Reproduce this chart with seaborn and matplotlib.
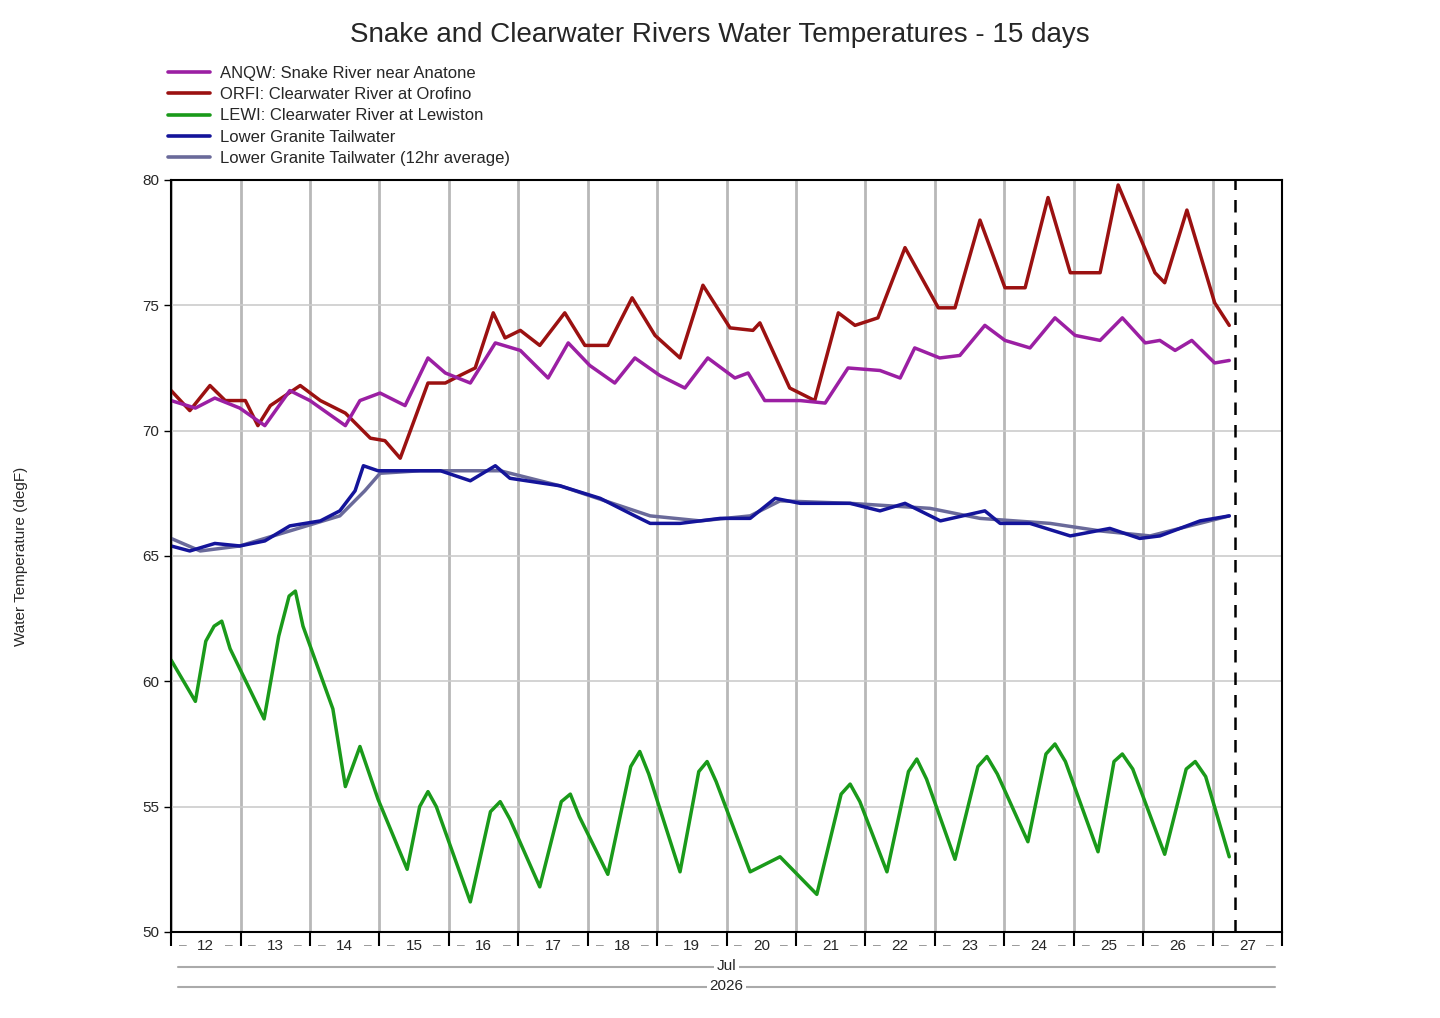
import matplotlib
matplotlib.use("Agg")
import matplotlib.pyplot as plt
import seaborn as sns
import pandas as pd
from matplotlib.lines import Line2D

sns.set_theme(style="white")
plt.rcParams['font.family'] = ['Liberation Sans', 'DejaVu Sans']

# days since Jul 12 00:00
lewi_t = [0, 0.35, 0.50, 0.62, 0.73, 0.85, 1.34, 1.55, 1.70, 1.79, 1.90, 2.33, 2.51, 2.72, 2.98, 3.40, 3.58, 3.70, 3.82, 4.31, 4.60, 4.74, 4.88, 5.31, 5.62, 5.75, 5.88, 6.29, 6.62, 6.75, 6.88, 7.33, 7.60, 7.72, 7.85, 8.34, 8.77, 9.30, 9.65, 9.78, 9.92, 10.31, 10.62, 10.74, 10.88, 11.29, 11.62, 11.75, 11.90, 12.34, 12.60, 12.73, 12.88, 13.35, 13.58, 13.70, 13.85, 14.31, 14.62, 14.75, 14.90, 15.24]
lewi_v = [60.85, 59.2, 61.6, 62.2, 62.4, 61.3, 58.5, 61.8, 63.4, 63.6, 62.2, 58.9, 55.8, 57.4, 55.3, 52.5, 55.0, 55.6, 55.0, 51.2, 54.8, 55.2, 54.5, 51.8, 55.2, 55.5, 54.6, 52.3, 56.6, 57.2, 56.3, 52.4, 56.4, 56.8, 56.0, 52.4, 53.0, 51.5, 55.5, 55.9, 55.2, 52.4, 56.4, 56.9, 56.1, 52.9, 56.6, 57.0, 56.3, 53.6, 57.1, 57.5, 56.8, 53.2, 56.8, 57.1, 56.5, 53.1, 56.5, 56.8, 56.2, 53.0]

orfi_t = [0, 0.27, 0.56, 0.78, 1.07, 1.25, 1.43, 1.86, 2.15, 2.51, 2.87, 3.08, 3.30, 3.70, 3.95, 4.16, 4.38, 4.64, 4.81, 5.03, 5.31, 5.67, 5.96, 6.29, 6.64, 6.97, 7.33, 7.66, 8.05, 8.38, 8.48, 8.91, 9.27, 9.61, 9.85, 10.18, 10.57, 11.05, 11.29, 11.65, 12.01, 12.30, 12.63, 12.95, 13.38, 13.64, 14.17, 14.31, 14.63, 15.03, 15.24]
orfi_v = [71.6, 70.8, 71.8, 71.2, 71.2, 70.2, 71.0, 71.8, 71.2, 70.7, 69.7, 69.6, 68.9, 71.9, 71.9, 72.2, 72.5, 74.7, 73.7, 74.0, 73.4, 74.7, 73.4, 73.4, 75.3, 73.8, 72.9, 75.8, 74.1, 74.0, 74.3, 71.7, 71.2, 74.7, 74.2, 74.5, 77.3, 74.9, 74.9, 78.4, 75.7, 75.7, 79.3, 76.3, 76.3, 79.8, 76.3, 75.9, 78.8, 75.1, 74.2]

anqw_t = [0, 0.35, 0.63, 0.99, 1.35, 1.71, 2.00, 2.51, 2.72, 3.01, 3.37, 3.70, 3.95, 4.31, 4.67, 5.03, 5.43, 5.72, 6.03, 6.39, 6.68, 7.04, 7.40, 7.73, 8.12, 8.31, 8.55, 9.06, 9.42, 9.75, 10.21, 10.50, 10.71, 11.07, 11.36, 11.72, 12.01, 12.37, 12.73, 13.02, 13.38, 13.70, 14.03, 14.24, 14.46, 14.70, 15.03, 15.24]
anqw_v = [71.2, 70.9, 71.3, 70.9, 70.2, 71.6, 71.2, 70.2, 71.2, 71.5, 71.0, 72.9, 72.3, 71.9, 73.5, 73.2, 72.1, 73.5, 72.6, 71.9, 72.9, 72.2, 71.7, 72.9, 72.1, 72.3, 71.2, 71.2, 71.1, 72.5, 72.4, 72.1, 73.3, 72.9, 73.0, 74.2, 73.6, 73.3, 74.5, 73.8, 73.6, 74.5, 73.5, 73.6, 73.2, 73.6, 72.7, 72.8]

lgt_t = [0, 0.27, 0.63, 0.99, 1.35, 1.71, 2.15, 2.43, 2.65, 2.77, 2.98, 3.30, 3.88, 4.31, 4.67, 4.88, 5.60, 6.18, 6.68, 6.90, 7.33, 7.91, 8.34, 8.70, 9.06, 9.78, 10.21, 10.57, 11.08, 11.72, 11.94, 12.37, 12.95, 13.52, 13.95, 14.24, 14.82, 15.24]
lgt_v = [65.4, 65.2, 65.5, 65.4, 65.6, 66.2, 66.4, 66.8, 67.6, 68.6, 68.4, 68.4, 68.4, 68.0, 68.6, 68.1, 67.8, 67.3, 66.6, 66.3, 66.3, 66.5, 66.5, 67.3, 67.1, 67.1, 66.8, 67.1, 66.4, 66.8, 66.3, 66.3, 65.8, 66.1, 65.7, 65.8, 66.4, 66.6]

avg_t = [0, 0.42, 0.99, 1.71, 2.43, 2.79, 3.01, 3.59, 4.74, 5.60, 6.90, 7.62, 8.34, 8.77, 9.78, 10.93, 11.65, 12.66, 13.38, 14.10, 15.24]
avg_v = [65.7, 65.2, 65.4, 66.0, 66.6, 67.6, 68.3, 68.4, 68.4, 67.8, 66.6, 66.4, 66.6, 67.2, 67.1, 66.9, 66.5, 66.3, 66.0, 65.8, 66.6]

day_labels = [str(d) for d in range(12, 28)]
now_t = 15.32

series = [
    ("ANQW: Snake River near Anatone", anqw_t, anqw_v, "#9b1fa3"),
    ("ORFI: Clearwater River at Orofino", orfi_t, orfi_v, "#9b1111"),
    ("LEWI: Clearwater River at Lewiston", lewi_t, lewi_v, "#1a9a1a"),
    ("Lower Granite Tailwater", lgt_t, lgt_v, "#14149a"),
    ("Lower Granite Tailwater (12hr average)", avg_t, avg_v, "#6a6a9a"),
]

fig = plt.figure(figsize=(14.4, 10.18), dpi=100)
ax = fig.add_axes([0.1188, 0.0845, 0.7715, 0.7387])

for idx in [4, 3, 2, 1, 0]:
    name, t, v, c = series[idx]
    sns.lineplot(x=t, y=v, ax=ax, color=c, linewidth=2.5, sort=False)

ax.set_xlim(0, 16)
ax.set_ylim(50, 80)
ax.set_yticks([50, 55, 60, 65, 70, 75, 80])
ax.set_yticklabels(["50", "55", "60", "65", "70", "75", "80"], fontsize=11)
ax.set_xticks(range(0, 17))
ax.set_xticklabels([])
ax.tick_params(axis='x', bottom=True, direction='out', length=10, width=1.5, color='black')
ax.tick_params(axis='y', left=True, direction='out', length=5, width=1, color='black', labelsize=11)
ax.grid(True, color='#cccccc', linewidth=1.2)
ax.grid(True, axis='x', color='#b8b8b8', linewidth=2)
for s in ax.spines.values():
    s.set_color('black'); s.set_linewidth(1.5)
ax.axvline(now_t, color='black', linestyle=(0, (5, 4)), linewidth=1.8)
ax.set_ylabel("Water Temperature (degF)", fontsize=11, labelpad=82)

for i, lab in enumerate(day_labels):
    xc = i + 0.5
    ax.text(xc, -0.018, lab, transform=ax.get_xaxis_transform(), ha='center', va='center', fontsize=11)
    for off in (-0.33, 0.33):
        ax.text(xc + off, -0.018, "–", transform=ax.get_xaxis_transform(), ha='center', va='center', fontsize=10, color='#999999')

for yy, txt in [(-0.047, "Jul"), (-0.073, "2026")]:
    ax.plot([0.1, 15.9], [yy, yy], transform=ax.get_xaxis_transform(), color='#aaaaaa', linewidth=1.5, clip_on=False)
    ax.text(8.0, yy + 0.0015, txt, transform=ax.get_xaxis_transform(), ha='center', va='center', fontsize=11,
            bbox=dict(facecolor='white', edgecolor='none', pad=2))

handles = [Line2D([0], [0], color=c, linewidth=2.6) for _, _, _, c in series]
fig.legend(handles, [n for n, _, _, _ in series], loc='upper left', bbox_to_anchor=(0.112, 0.942),
           frameon=False, fontsize=12, handlelength=2.5, labelspacing=0.38, borderaxespad=0, handletextpad=0.6)

fig.suptitle("Snake and Clearwater Rivers Water Temperatures - 15 days", fontsize=20, y=0.978)
fig.savefig("out.png", dpi=100)
